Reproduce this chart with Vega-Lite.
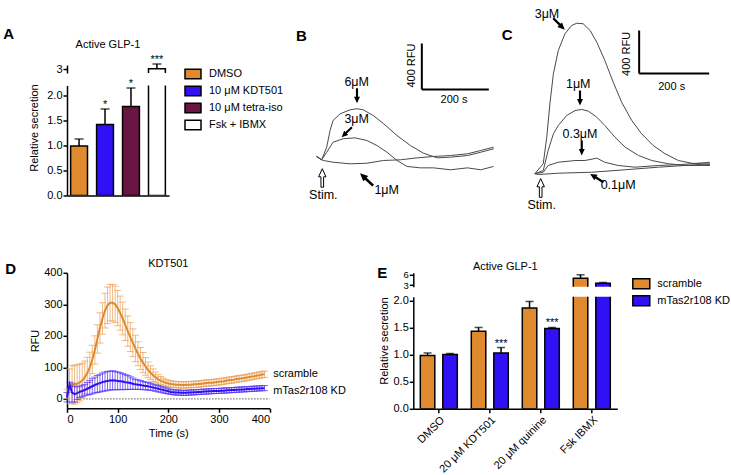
{
"$schema": "https://vega.github.io/schema/vega-lite/v6.json",
"background": "white",
"padding": {"left": 3, "top": 7, "right": 4, "bottom": 4},
"config": {
  "font": "Liberation Sans",
  "view": {"stroke": null},
  "axis": {"grid": false, "domainColor": "black", "domainWidth": 1.5, "tickColor": "black", "tickWidth": 1.5, "tickSize": 4, "labelFont": "Liberation Sans", "labelFontSize": 11, "labelColor": "black", "labelPadding": 1, "titleFont": "Liberation Sans", "titleFontSize": 11, "titleFontWeight": "normal", "titleColor": "black"},
  "legend": {"labelFont": "Liberation Sans", "labelFontSize": 11, "labelColor": "black", "padding": 0},
  "title": {"font": "Liberation Sans", "fontSize": 11, "fontWeight": "normal", "color": "black", "offset": 0},
  "text": {"font": "Liberation Sans", "fontSize": 12, "color": "black"}
},
"datasets": {
  "dd": [
{"g":"s","t":0,"m":15,"e":15},{"g":"s","t":5,"m":40,"e":55},{"g":"s","t":10,"m":45,"e":60},{"g":"s","t":15,"m":45,"e":62},{"g":"s","t":20,"m":48,"e":60},{"g":"s","t":25,"m":52,"e":58},{"g":"s","t":30,"m":58,"e":55},{"g":"s","t":35,"m":68,"e":52},{"g":"s","t":40,"m":82,"e":50},{"g":"s","t":45,"m":100,"e":48},{"g":"s","t":50,"m":125,"e":45},{"g":"s","t":55,"m":155,"e":45},{"g":"s","t":60,"m":190,"e":45},{"g":"s","t":65,"m":225,"e":48},{"g":"s","t":70,"m":255,"e":50},{"g":"s","t":75,"m":280,"e":55},{"g":"s","t":80,"m":297,"e":58},{"g":"s","t":85,"m":305,"e":58},{"g":"s","t":90,"m":305,"e":58},{"g":"s","t":95,"m":300,"e":58},{"g":"s","t":100,"m":288,"e":56},{"g":"s","t":105,"m":272,"e":54},{"g":"s","t":110,"m":255,"e":52},{"g":"s","t":115,"m":235,"e":50},{"g":"s","t":120,"m":215,"e":48},{"g":"s","t":125,"m":196,"e":46},{"g":"s","t":130,"m":178,"e":44},{"g":"s","t":135,"m":160,"e":42},{"g":"s","t":140,"m":143,"e":38},{"g":"s","t":145,"m":128,"e":35},{"g":"s","t":150,"m":115,"e":32},{"g":"s","t":155,"m":103,"e":28},{"g":"s","t":160,"m":92,"e":25},{"g":"s","t":165,"m":83,"e":22},{"g":"s","t":170,"m":75,"e":20},{"g":"s","t":175,"m":68,"e":17},{"g":"s","t":180,"m":62,"e":15},{"g":"s","t":185,"m":58,"e":13},{"g":"s","t":190,"m":54,"e":12},{"g":"s","t":195,"m":51,"e":11},{"g":"s","t":200,"m":49,"e":10},{"g":"s","t":205,"m":47,"e":10},{"g":"s","t":210,"m":46,"e":10},{"g":"s","t":215,"m":45,"e":10},{"g":"s","t":220,"m":45,"e":10},{"g":"s","t":225,"m":44,"e":10},{"g":"s","t":230,"m":44,"e":10},{"g":"s","t":235,"m":45,"e":10},{"g":"s","t":240,"m":45,"e":10},{"g":"s","t":245,"m":45,"e":10},{"g":"s","t":250,"m":46,"e":10},{"g":"s","t":255,"m":46,"e":10},{"g":"s","t":260,"m":47,"e":10},{"g":"s","t":265,"m":48,"e":10},{"g":"s","t":270,"m":49,"e":10},{"g":"s","t":275,"m":50,"e":10},{"g":"s","t":280,"m":51,"e":10},{"g":"s","t":285,"m":51,"e":10},{"g":"s","t":290,"m":52,"e":10},{"g":"s","t":295,"m":53,"e":10},{"g":"s","t":300,"m":54,"e":10},{"g":"s","t":305,"m":55,"e":10},{"g":"s","t":310,"m":56,"e":10},{"g":"s","t":315,"m":58,"e":10},{"g":"s","t":320,"m":59,"e":10},{"g":"s","t":325,"m":60,"e":10},{"g":"s","t":330,"m":61,"e":10},{"g":"s","t":335,"m":63,"e":10},{"g":"s","t":340,"m":64,"e":10},{"g":"s","t":345,"m":65,"e":10},{"g":"s","t":350,"m":66,"e":10},{"g":"s","t":355,"m":68,"e":10},{"g":"s","t":360,"m":69,"e":10},{"g":"s","t":365,"m":71,"e":10},{"g":"s","t":370,"m":72,"e":10},{"g":"s","t":375,"m":74,"e":10},{"g":"s","t":380,"m":75,"e":10},{"g":"s","t":385,"m":77,"e":10},{"g":"s","t":390,"m":78,"e":10},
{"g":"k","t":0,"m":5,"e":15},{"g":"k","t":5,"m":45,"e":8},{"g":"k","t":10,"m":20,"e":30},{"g":"k","t":15,"m":15,"e":25},{"g":"k","t":20,"m":18,"e":20},{"g":"k","t":25,"m":22,"e":18},{"g":"k","t":30,"m":25,"e":18},{"g":"k","t":35,"m":28,"e":18},{"g":"k","t":40,"m":32,"e":20},{"g":"k","t":45,"m":36,"e":22},{"g":"k","t":50,"m":40,"e":24},{"g":"k","t":55,"m":44,"e":25},{"g":"k","t":60,"m":47,"e":27},{"g":"k","t":65,"m":50,"e":28},{"g":"k","t":70,"m":53,"e":29},{"g":"k","t":75,"m":55,"e":30},{"g":"k","t":80,"m":57,"e":30},{"g":"k","t":85,"m":58,"e":30},{"g":"k","t":90,"m":59,"e":30},{"g":"k","t":95,"m":58,"e":29},{"g":"k","t":100,"m":57,"e":28},{"g":"k","t":105,"m":56,"e":27},{"g":"k","t":110,"m":55,"e":25},{"g":"k","t":115,"m":53,"e":24},{"g":"k","t":120,"m":52,"e":22},{"g":"k","t":125,"m":50,"e":20},{"g":"k","t":130,"m":48,"e":18},{"g":"k","t":135,"m":46,"e":16},{"g":"k","t":140,"m":45,"e":15},{"g":"k","t":145,"m":44,"e":14},{"g":"k","t":150,"m":42,"e":13},{"g":"k","t":155,"m":41,"e":12},{"g":"k","t":160,"m":40,"e":12},{"g":"k","t":165,"m":38,"e":11},{"g":"k","t":170,"m":36,"e":10},{"g":"k","t":175,"m":34,"e":10},{"g":"k","t":180,"m":32,"e":10},{"g":"k","t":185,"m":30,"e":9},{"g":"k","t":190,"m":28,"e":9},{"g":"k","t":195,"m":26,"e":9},{"g":"k","t":200,"m":24,"e":8},{"g":"k","t":205,"m":22,"e":8},{"g":"k","t":210,"m":21,"e":8},{"g":"k","t":215,"m":20,"e":8},{"g":"k","t":220,"m":20,"e":8},{"g":"k","t":225,"m":19,"e":8},{"g":"k","t":230,"m":19,"e":8},{"g":"k","t":235,"m":19,"e":8},{"g":"k","t":240,"m":20,"e":8},{"g":"k","t":245,"m":20,"e":8},{"g":"k","t":250,"m":21,"e":8},{"g":"k","t":255,"m":21,"e":8},{"g":"k","t":260,"m":22,"e":8},{"g":"k","t":265,"m":22,"e":8},{"g":"k","t":270,"m":23,"e":8},{"g":"k","t":275,"m":23,"e":8},{"g":"k","t":280,"m":24,"e":8},{"g":"k","t":285,"m":24,"e":8},{"g":"k","t":290,"m":25,"e":8},{"g":"k","t":295,"m":25,"e":8},{"g":"k","t":300,"m":25,"e":8},{"g":"k","t":305,"m":26,"e":8},{"g":"k","t":310,"m":26,"e":8},{"g":"k","t":315,"m":27,"e":8},{"g":"k","t":320,"m":27,"e":8},{"g":"k","t":325,"m":28,"e":8},{"g":"k","t":330,"m":28,"e":8},{"g":"k","t":335,"m":29,"e":8},{"g":"k","t":340,"m":29,"e":8},{"g":"k","t":345,"m":30,"e":8},{"g":"k","t":350,"m":30,"e":8},{"g":"k","t":355,"m":31,"e":8},{"g":"k","t":360,"m":31,"e":8},{"g":"k","t":365,"m":32,"e":8},{"g":"k","t":370,"m":32,"e":8},{"g":"k","t":375,"m":33,"e":8},{"g":"k","t":380,"m":33,"e":8},{"g":"k","t":385,"m":34,"e":8},{"g":"k","t":390,"m":34,"e":8}
  ],
  "ed": [
    {"cat":"DMSO","grp":"scramble","v":0.985,"hi":1.03,"sig":""},
    {"cat":"DMSO","grp":"mTas2r108 KD","v":1.0,"hi":1.02,"sig":""},
    {"cat":"20 μM KDT501","grp":"scramble","v":1.43,"hi":1.5,"sig":""},
    {"cat":"20 μM KDT501","grp":"mTas2r108 KD","v":1.03,"hi":1.13,"sig":"***"},
    {"cat":"20 μM quinine","grp":"scramble","v":1.86,"hi":1.98,"sig":""},
    {"cat":"20 μM quinine","grp":"mTas2r108 KD","v":1.48,"hi":1.5,"sig":"***"},
    {"cat":"Fsk IBMX","grp":"scramble","v":4.96,"hi":5.93,"sig":""},
    {"cat":"Fsk IBMX","grp":"mTas2r108 KD","v":3.53,"hi":3.73,"sig":""}
  ]
},
"bounds": "flush",
"spacing": 207.8,
"resolve": {"scale": {"x": "independent", "y": "independent", "color": "independent"}, "axis": {"x": "independent", "y": "independent"}, "legend": {"color": "independent"}},
"vconcat": [
{
  "bounds": "flush",
  "spacing": 233,
  "resolve": {"scale": {"x": "independent", "y": "independent", "color": "independent"}, "axis": {"x": "independent", "y": "independent"}, "legend": {"color": "independent"}},
  "hconcat": [
  {
    "title": {"text": "A", "anchor": "start", "frame": "group", "fontSize": 15, "fontWeight": "bold", "dx": -63.7, "dy": 6.5},
    "bounds": "flush",
    "spacing": 12.5,
    "resolve": {"scale": {"x": "independent", "y": "independent"}, "axis": {"x": "independent", "y": "independent"}},
    "vconcat": [
    {
      "width": 102, "height": 8,
      "title": {"text": "Active GLP-1", "dx": -10},
      "data": {"values": [{"g": "Fsk + IBMX", "v": 3.01, "hi": 3.25, "sig": "***"}]},
      "encoding": {"x": {"field": "g", "type": "nominal", "scale": {"domain": ["DMSO", "10 μM KDT501", "10 μM tetra-iso", "Fsk + IBMX"], "paddingInner": 0.35, "paddingOuter": 0.14}, "axis": null}},
      "layer": [
        {"mark": {"type": "bar", "stroke": "black", "strokeWidth": 1.5, "clip": true},
         "encoding": {"y": {"field": "v", "type": "quantitative", "scale": {"domain": [2.8, 3.2], "nice": false}, "axis": {"values": [3], "format": "d", "title": null}},
                      "y2": {"datum": 2.5},
                      "color": {"field": "g", "type": "nominal", "scale": {"domain": ["DMSO", "10 μM KDT501", "10 μM tetra-iso", "Fsk + IBMX"], "range": ["#DF8A2E", "#3010F5", "#6B1543", "#FFFFFF"]}, "legend": {"title": null, "symbolType": "M-1,-0.58H1V0.58H-1Z", "symbolSize": 256, "symbolStrokeColor": "black", "symbolStrokeWidth": 1.5, "offset": 15, "labelOffset": 7, "rowPadding": -1, "labelFontSize": 11}}}},
        {"mark": {"type": "rule", "color": "black", "strokeWidth": 1.5},
         "encoding": {"y": {"field": "v", "type": "quantitative", "scale": {"domain": [2.8, 3.2], "nice": false}, "axis": {"values": [3], "format": "d", "title": null}}, "y2": {"field": "hi"}}},
        {"mark": {"type": "tick", "color": "black", "thickness": 1.5, "size": 9},
         "encoding": {"y": {"field": "hi", "type": "quantitative", "scale": {"domain": [2.8, 3.2], "nice": false}, "axis": {"values": [3], "format": "d", "title": null}}}},
        {"mark": {"type": "text", "baseline": "alphabetic", "fontSize": 11, "dy": -1},
         "encoding": {"y": {"field": "hi", "type": "quantitative", "scale": {"domain": [2.8, 3.2], "nice": false}, "axis": {"values": [3], "format": "d", "title": null}}, "text": {"field": "sig"}}}
      ]
    },
    {
      "width": 102, "height": 110,
      "data": {"values": [{"g": "DMSO", "v": 0.99, "hi": 1.13, "sig": ""}, {"g": "10 μM KDT501", "v": 1.42, "hi": 1.73, "sig": "*"}, {"g": "10 μM tetra-iso", "v": 1.78, "hi": 2.15, "sig": "*"}, {"g": "Fsk + IBMX", "v": 3.01, "hi": 3.01, "sig": ""}]},
      "encoding": {"x": {"field": "g", "type": "nominal", "scale": {"domain": ["DMSO", "10 μM KDT501", "10 μM tetra-iso", "Fsk + IBMX"], "paddingInner": 0.35, "paddingOuter": 0.14}, "axis": {"labels": false, "ticks": false, "title": null}}},
      "layer": [
        {"mark": {"type": "bar", "stroke": "black", "strokeWidth": 1.5, "clip": true},
         "encoding": {"y": {"field": "v", "type": "quantitative", "scale": {"domain": [0, 2.2], "nice": false}, "axis": {"values": [0, 0.5, 1, 1.5, 2], "format": ".1f", "title": "Relative secretion", "titleY": 42, "titlePadding": 7}},
                      "color": {"field": "g", "type": "nominal", "scale": {"domain": ["DMSO", "10 μM KDT501", "10 μM tetra-iso", "Fsk + IBMX"], "range": ["#DF8A2E", "#3010F5", "#6B1543", "#FFFFFF"]}, "legend": {"title": null, "symbolType": "M-1,-0.58H1V0.58H-1Z", "symbolSize": 256, "symbolStrokeColor": "black", "symbolStrokeWidth": 1.5, "offset": 15, "labelOffset": 7, "rowPadding": -1, "labelFontSize": 11}}}},
        {"transform": [{"filter": "datum.hi < 2.5"}],
         "mark": {"type": "rule", "color": "black", "strokeWidth": 1.5},
         "encoding": {"y": {"field": "v", "type": "quantitative", "scale": {"domain": [0, 2.2], "nice": false}, "axis": {"values": [0, 0.5, 1, 1.5, 2], "format": ".1f", "title": "Relative secretion", "titleY": 42, "titlePadding": 7}}, "y2": {"field": "hi"}}},
        {"transform": [{"filter": "datum.hi < 2.5"}],
         "mark": {"type": "tick", "color": "black", "thickness": 1.5, "size": 9},
         "encoding": {"y": {"field": "hi", "type": "quantitative", "scale": {"domain": [0, 2.2], "nice": false}, "axis": {"values": [0, 0.5, 1, 1.5, 2], "format": ".1f", "title": "Relative secretion", "titleY": 42, "titlePadding": 7}}}},
        {"transform": [{"filter": "datum.hi < 2.5"}],
         "mark": {"type": "text", "baseline": "alphabetic", "fontSize": 11, "dy": -1},
         "encoding": {"y": {"field": "hi", "type": "quantitative", "scale": {"domain": [0, 2.2], "nice": false}, "axis": {"values": [0, 0.5, 1, 1.5, 2], "format": ".1f", "title": "Relative secretion", "titleY": 42, "titlePadding": 7}}, "text": {"field": "sig"}}}
      ]
    }
    ]
  },
  {
    "bounds": "flush",
    "spacing": 6,
    "resolve": {"scale": {"x": "independent", "y": "independent"}, "axis": {"x": "independent", "y": "independent"}},
    "hconcat": [
    {
      "width": 200, "height": 130.5,
      "encoding": {"x": {"field": "t", "type": "quantitative", "scale": {"domain": [-53.7, 543.3], "nice": false, "zero": false}, "axis": null},
                   "y": {"field": "v", "type": "quantitative", "scale": {"domain": [-330.6, 804.75], "nice": false, "zero": false}, "axis": null}},
      "layer": [
        {"data": {"values": [
          {"c":"6","t":-4,"v":9},{"c":"6","t":11,"v":-20},{"c":"6","t":26,"v":90},{"c":"6","t":36,"v":235},{"c":"6","t":45,"v":322},{"c":"6","t":66,"v":380},{"c":"6","t":96,"v":415},{"c":"6","t":116,"v":424},{"c":"6","t":135,"v":415},{"c":"6","t":165,"v":365},{"c":"6","t":195,"v":296},{"c":"6","t":236,"v":191},{"c":"6","t":276,"v":104},{"c":"6","t":315,"v":37},{"c":"6","t":356,"v":-3},{"c":"6","t":396,"v":3},{"c":"6","t":446,"v":17},{"c":"6","t":486,"v":46},{"c":"6","t":525,"v":76},
          {"c":"3","t":-4,"v":9},{"c":"3","t":11,"v":-20},{"c":"3","t":26,"v":46},{"c":"3","t":45,"v":133},{"c":"3","t":75,"v":163},{"c":"3","t":111,"v":171},{"c":"3","t":146,"v":148},{"c":"3","t":176,"v":104},{"c":"3","t":206,"v":46},{"c":"3","t":236,"v":-26},{"c":"3","t":266,"v":-78},{"c":"3","t":306,"v":-90},{"c":"3","t":345,"v":-90},{"c":"3","t":396,"v":-107},{"c":"3","t":446,"v":-90},{"c":"3","t":486,"v":-107},{"c":"3","t":524,"v":-78},
          {"c":"1","t":-4,"v":9},{"c":"1","t":11,"v":-20},{"c":"1","t":16,"v":-26},{"c":"1","t":45,"v":-41},{"c":"1","t":96,"v":-55},{"c":"1","t":146,"v":-50},{"c":"1","t":195,"v":-26},{"c":"1","t":246,"v":-20},{"c":"1","t":296,"v":-3},{"c":"1","t":345,"v":9},{"c":"1","t":396,"v":17},{"c":"1","t":446,"v":32},{"c":"1","t":486,"v":61},{"c":"1","t":524,"v":90}
         ]},
         "mark": {"type": "line", "color": "#4a4a4a", "strokeWidth": 1},
         "encoding": {"detail": {"field": "c"}}},
        {"data": {"values": [{"t": 310, "v": 592, "t2": 310, "v2": 992}, {"t": 310, "v": 592, "t2": 510, "v2": 592}]},
         "mark": {"type": "rule", "color": "black", "strokeWidth": 2},
         "encoding": {"x2": {"field": "t2"}, "y2": {"field": "v2"}}},
        {"data": {"values": [{"t": 115.5, "v": 655, "s": "6μM"}, {"t": 115.5, "v": 331, "s": "3μM"}, {"t": 205, "v": -287, "s": "1μM"}, {"t": 16, "v": -322, "s": "Stim."}]},
         "mark": {"type": "text", "fontSize": 12.5, "baseline": "middle", "align": "center"},
         "encoding": {"text": {"field": "s"}}},
        {"data": {"values": [{"t": -65.7, "v": 1061, "s": "B"}]},
         "mark": {"type": "text", "fontSize": 15, "fontWeight": "bold", "baseline": "middle", "align": "left"},
         "encoding": {"text": {"field": "s"}}},
        {"data": {"values": [{"t": 406, "v": 496, "s": "200 s"}]},
         "mark": {"type": "text", "fontSize": 11, "baseline": "middle", "align": "center"},
         "encoding": {"text": {"field": "s"}}},
        {"data": {"values": [{"t": 282, "v": 800, "s": "400 RFU"}]},
         "mark": {"type": "text", "fontSize": 11, "baseline": "middle", "align": "center", "angle": 270},
         "encoding": {"text": {"field": "s"}}},
        {"data": {"values": [{"t": 116.4, "v": 537}]},
         "mark": {"type": "point", "shape": "arrow", "filled": true, "color": "black", "opacity": 1, "size": 225, "angle": 180}},
        {"data": {"values": [{"t": 86, "v": 220}]},
         "mark": {"type": "point", "shape": "arrow", "filled": true, "color": "black", "opacity": 1, "size": 205, "angle": 226}},
        {"data": {"values": [{"t": 145, "v": -191}]},
         "mark": {"type": "point", "shape": "arrow", "filled": true, "color": "black", "opacity": 1, "size": 324, "angle": 313}},
        {"data": {"values": [{"t": 12.8, "v": -178}]},
         "mark": {"type": "point", "shape": "arrow", "filled": true, "fill": "white", "stroke": "black", "strokeWidth": 1, "opacity": 1, "size": 340, "angle": 0}}
      ]
    },
    {
      "width": 209, "height": 130.5,
      "encoding": {"x": {"field": "t", "type": "quantitative", "scale": {"domain": [-91.4, 505.7], "nice": false, "zero": false}, "axis": null},
                   "y": {"field": "v", "type": "quantitative", "scale": {"domain": [-195.3, 1018.4], "nice": false, "zero": false}, "axis": null}},
      "layer": [
        {"data": {"values": [
          {"c":"3","t":-9,"v":7},{"c":"3","t":15,"v":100},{"c":"3","t":25,"v":347},{"c":"3","t":34,"v":658},{"c":"3","t":44,"v":937},{"c":"3","t":58,"v":1153},{"c":"3","t":77,"v":1309},{"c":"3","t":96,"v":1386},{"c":"3","t":111,"v":1407},{"c":"3","t":129,"v":1402},{"c":"3","t":149,"v":1339},{"c":"3","t":168,"v":1230},{"c":"3","t":191,"v":1060},{"c":"3","t":215,"v":858},{"c":"3","t":239,"v":672},{"c":"3","t":268,"v":502},{"c":"3","t":296,"v":379},{"c":"3","t":329,"v":270},{"c":"3","t":363,"v":193},{"c":"3","t":401,"v":130},{"c":"3","t":439,"v":105},{"c":"3","t":491,"v":93},
          {"c":"1","t":-9,"v":7},{"c":"1","t":15,"v":37},{"c":"1","t":29,"v":223},{"c":"1","t":44,"v":379},{"c":"1","t":58,"v":456},{"c":"1","t":82,"v":549},{"c":"1","t":106,"v":595},{"c":"1","t":125,"v":605},{"c":"1","t":144,"v":589},{"c":"1","t":168,"v":533},{"c":"1","t":191,"v":456},{"c":"1","t":220,"v":347},{"c":"1","t":249,"v":254},{"c":"1","t":287,"v":177},{"c":"1","t":325,"v":130},{"c":"1","t":372,"v":100},{"c":"1","t":420,"v":84},{"c":"1","t":491,"v":100},
          {"c":"0.3","t":-9,"v":7},{"c":"0.3","t":15,"v":21},{"c":"0.3","t":29,"v":84},{"c":"0.3","t":58,"v":114},{"c":"0.3","t":106,"v":130},{"c":"0.3","t":134,"v":130},{"c":"0.3","t":168,"v":152},{"c":"0.3","t":191,"v":114},{"c":"0.3","t":229,"v":84},{"c":"0.3","t":277,"v":68},{"c":"0.3","t":344,"v":84},{"c":"0.3","t":411,"v":93},{"c":"0.3","t":491,"v":114},
          {"c":"0.1","t":-9,"v":7},{"c":"0.1","t":1,"v":0},{"c":"0.1","t":58,"v":12},{"c":"0.1","t":153,"v":21},{"c":"0.1","t":249,"v":44},{"c":"0.1","t":344,"v":68},{"c":"0.1","t":420,"v":84},{"c":"0.1","t":491,"v":84}
         ]},
         "mark": {"type": "line", "color": "#4a4a4a", "strokeWidth": 1},
         "encoding": {"detail": {"field": "c"}}},
        {"data": {"values": [{"t": 289, "v": 939, "t2": 289, "v2": 1339}, {"t": 289, "v": 939, "t2": 489, "v2": 939}]},
         "mark": {"type": "rule", "color": "black", "strokeWidth": 2},
         "encoding": {"x2": {"field": "t2"}, "y2": {"field": "v2"}}},
        {"data": {"values": [{"t": 25.7, "v": 1497, "s": "3μM"}, {"t": 115, "v": 843, "s": "1μM"}, {"t": 120, "v": 378, "s": "0.3μM"}, {"t": 229, "v": -102, "s": "0.1μM"}, {"t": 10.6, "v": -288, "s": "Stim."}]},
         "mark": {"type": "text", "fontSize": 12.5, "baseline": "middle", "align": "center"},
         "encoding": {"text": {"field": "s"}}},
        {"data": {"values": [{"t": -103.7, "v": 1293, "s": "C"}]},
         "mark": {"type": "text", "fontSize": 15, "fontWeight": "bold", "baseline": "middle", "align": "left"},
         "encoding": {"text": {"field": "s"}}},
        {"data": {"values": [{"t": 382, "v": 813, "s": "200 s"}]},
         "mark": {"type": "text", "fontSize": 11, "baseline": "middle", "align": "center"},
         "encoding": {"text": {"field": "s"}}},
        {"data": {"values": [{"t": 253, "v": 1122, "s": "400 RFU"}]},
         "mark": {"type": "text", "fontSize": 11, "baseline": "middle", "align": "center", "angle": 270},
         "encoding": {"text": {"field": "s"}}},
        {"data": {"values": [{"t": 60, "v": 1400}]},
         "mark": {"type": "point", "shape": "arrow", "filled": true, "color": "black", "opacity": 1, "size": 265, "angle": 135}},
        {"data": {"values": [{"t": 120, "v": 711}, {"t": 125, "v": 246}]},
         "mark": {"type": "point", "shape": "arrow", "filled": true, "color": "black", "opacity": 1, "size": 225, "angle": 180}},
        {"data": {"values": [{"t": 168, "v": -33}]},
         "mark": {"type": "point", "shape": "arrow", "filled": true, "color": "black", "opacity": 1, "size": 246, "angle": 302}},
        {"data": {"values": [{"t": 7.7, "v": -125}]},
         "mark": {"type": "point", "shape": "arrow", "filled": true, "fill": "white", "stroke": "black", "strokeWidth": 1, "opacity": 1, "size": 350, "angle": 0}}
      ]
    }
    ]
  }
  ]
},
{
  "bounds": "flush",
  "spacing": 346.3,
  "resolve": {"scale": {"x": "independent", "y": "independent", "color": "independent"}, "axis": {"x": "independent", "y": "independent"}, "legend": {"color": "independent"}},
  "hconcat": [
  {
    "title": {"text": "D", "anchor": "start", "frame": "group", "fontSize": 15, "fontWeight": "bold", "dx": -61.7, "dy": 23},
    "bounds": "flush",
    "vconcat": [
    {
      "width": 202.6, "height": 135.5,
      "title": {"text": "KDT501", "dy": 6},
      "encoding": {"x": {"field": "t", "type": "quantitative", "scale": {"domain": [0, 400], "nice": false}, "axis": {"values": [0, 100, 200, 300, 400], "title": "Time (s)", "titlePadding": 3}},
                   "y": {"field": "m", "type": "quantitative", "scale": {"domain": [-30, 400], "nice": false, "zero": false}, "axis": {"values": [0, 100, 200, 300, 400], "title": "RFU", "titlePadding": 3}}},
      "layer": [
        {"data": {"values": [{"t": 20, "t2": 400, "m": 0}]},
         "mark": {"type": "rule", "color": "#777777", "strokeWidth": 1.3, "strokeDash": [1.5, 1.5]},
         "encoding": {"x2": {"field": "t2"}}},
        {"data": {"name": "dd"}, "transform": [{"filter": "datum.g == 's'"}],
         "mark": {"type": "errorbar", "color": "#EBA35A", "opacity": 0.75, "thickness": 1, "ticks": {"size": 7, "thickness": 1}},
         "encoding": {"yError": {"field": "e"}}},
        {"data": {"name": "dd"}, "transform": [{"filter": "datum.g == 's'"}],
         "mark": {"type": "line", "color": "#DF8A2E", "strokeWidth": 2}},
        {"data": {"name": "dd"}, "transform": [{"filter": "datum.g == 'k'"}],
         "mark": {"type": "errorbar", "color": "#5538F5", "opacity": 0.75, "thickness": 1, "ticks": {"size": 7, "thickness": 1}},
         "encoding": {"yError": {"field": "e"}}},
        {"data": {"name": "dd"}, "transform": [{"filter": "datum.g == 'k'"}],
         "mark": {"type": "line", "color": "#3010F0", "strokeWidth": 2}},
        {"data": {"values": [{"t": 407, "m": 80, "s": "scramble"}, {"t": 407, "m": 26, "s": "mTas2r108 KD"}]},
         "mark": {"type": "text", "fontSize": 11, "align": "left", "baseline": "middle"},
         "encoding": {"text": {"field": "s"}}}
      ]
    }
    ]
  },
  {
    "title": {"text": "E", "anchor": "start", "frame": "group", "fontSize": 15, "fontWeight": "bold", "dx": -36, "dy": 24},
    "bounds": "flush",
    "spacing": 10,
    "resolve": {"scale": {"x": "independent", "y": "independent"}, "axis": {"x": "independent", "y": "independent"}},
    "vconcat": [
    {
      "width": 204, "height": 14,
      "title": {"text": "Active GLP-1", "dx": -10, "dy": 6},
      "data": {"name": "ed"},
      "transform": [{"filter": "datum.cat == 'Fsk IBMX'"}],
      "encoding": {"x": {"field": "cat", "type": "nominal", "scale": {"domain": ["DMSO", "20 μM KDT501", "20 μM quinine", "Fsk IBMX"], "paddingInner": 0, "paddingOuter": 0}, "axis": null},
                   "xOffset": {"field": "grp", "type": "nominal", "scale": {"domain": ["scramble", "mTas2r108 KD"], "paddingInner": 0.356, "paddingOuter": 0.311}}},
      "layer": [
        {"mark": {"type": "bar", "stroke": "black", "strokeWidth": 1.5, "clip": true},
         "encoding": {"y": {"field": "v", "type": "quantitative", "scale": {"domain": [2.5, 6.5], "nice": false}, "axis": {"values": [3, 6], "format": "d", "title": null, "labelFontSize": 9.5}},
                      "y2": {"datum": 2},
                      "color": {"field": "grp", "type": "nominal", "scale": {"domain": ["scramble", "mTas2r108 KD"], "range": ["#DF8A2E", "#3010F5"]}, "legend": {"title": null, "symbolType": "M-1.06,-0.62H1.06V0.62H-1.06Z", "symbolSize": 256, "symbolStrokeColor": "black", "symbolStrokeWidth": 1.5, "offset": 13, "padding": 2, "labelOffset": 7, "rowPadding": -3, "labelFontSize": 11}}}},
        {"mark": {"type": "rule", "color": "black", "strokeWidth": 1.5},
         "encoding": {"y": {"field": "v", "type": "quantitative", "scale": {"domain": [2.5, 6.5], "nice": false}, "axis": {"values": [3, 6], "format": "d", "title": null, "labelFontSize": 9.5}}, "y2": {"field": "hi"}}},
        {"mark": {"type": "tick", "color": "black", "thickness": 1.5, "size": 8},
         "encoding": {"y": {"field": "hi", "type": "quantitative", "scale": {"domain": [2.5, 6.5], "nice": false}, "axis": {"values": [3, 6], "format": "d", "title": null, "labelFontSize": 9.5}}}}
      ]
    },
    {
      "width": 204, "height": 112,
      "data": {"name": "ed"},
      "encoding": {"x": {"field": "cat", "type": "nominal", "scale": {"domain": ["DMSO", "20 μM KDT501", "20 μM quinine", "Fsk IBMX"], "paddingInner": 0, "paddingOuter": 0}, "axis": {"title": null, "labelAngle": -45, "labelFontSize": 11}},
                   "xOffset": {"field": "grp", "type": "nominal", "scale": {"domain": ["scramble", "mTas2r108 KD"], "paddingInner": 0.356, "paddingOuter": 0.311}}},
      "layer": [
        {"mark": {"type": "bar", "stroke": "black", "strokeWidth": 1.5, "clip": true},
         "encoding": {"y": {"field": "v", "type": "quantitative", "scale": {"domain": [0, 2.066], "nice": false}, "axis": {"values": [0, 0.5, 1, 1.5, 2], "format": ".1f", "title": "Relative secretion", "titleY": 43.7, "titlePadding": 4}},
                      "color": {"field": "grp", "type": "nominal", "scale": {"domain": ["scramble", "mTas2r108 KD"], "range": ["#DF8A2E", "#3010F5"]}, "legend": {"title": null, "symbolType": "M-1.06,-0.62H1.06V0.62H-1.06Z", "symbolSize": 256, "symbolStrokeColor": "black", "symbolStrokeWidth": 1.5, "offset": 13, "padding": 2, "labelOffset": 7, "rowPadding": -3, "labelFontSize": 11}}}},
        {"transform": [{"filter": "datum.hi < 2.066"}],
         "mark": {"type": "rule", "color": "black", "strokeWidth": 1.5},
         "encoding": {"y": {"field": "v", "type": "quantitative", "scale": {"domain": [0, 2.066], "nice": false}, "axis": {"values": [0, 0.5, 1, 1.5, 2], "format": ".1f", "title": "Relative secretion", "titleY": 43.7, "titlePadding": 4}}, "y2": {"field": "hi"}}},
        {"transform": [{"filter": "datum.hi < 2.066"}],
         "mark": {"type": "tick", "color": "black", "thickness": 1.5, "size": 8},
         "encoding": {"y": {"field": "hi", "type": "quantitative", "scale": {"domain": [0, 2.066], "nice": false}, "axis": {"values": [0, 0.5, 1, 1.5, 2], "format": ".1f", "title": "Relative secretion", "titleY": 43.7, "titlePadding": 4}}}},
        {"transform": [{"filter": "datum.hi < 2.066"}],
         "mark": {"type": "text", "baseline": "alphabetic", "fontSize": 11, "dy": -1},
         "encoding": {"y": {"field": "hi", "type": "quantitative", "scale": {"domain": [0, 2.066], "nice": false}, "axis": {"values": [0, 0.5, 1, 1.5, 2], "format": ".1f", "title": "Relative secretion", "titleY": 43.7, "titlePadding": 4}}, "text": {"field": "sig"}}}
      ]
    }
    ]
  }
  ]
}
]
}
